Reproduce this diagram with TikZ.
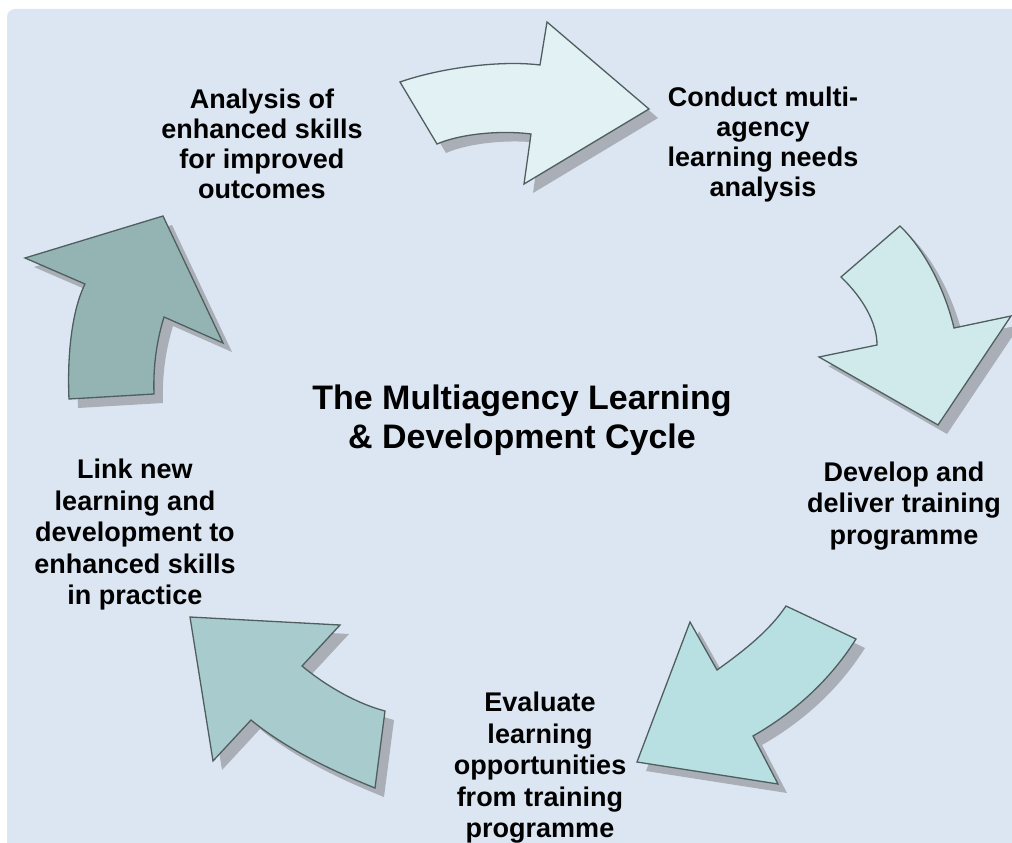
\documentclass[tikz,border=0pt]{standalone}
\usepackage{fontspec}
\setmainfont{Liberation Sans}
\usetikzlibrary{shadows}

\definecolor{bgblue}{HTML}{DCE6F2}
\definecolor{edgegray}{HTML}{4F5F5F}
\definecolor{shadowgray}{HTML}{A9AEB7}
\definecolor{arrowA}{HTML}{E2F2F4}
\definecolor{arrowB}{HTML}{D0EAEB}
\definecolor{arrowC}{HTML}{B8E0E2}
\definecolor{arrowD}{HTML}{A8CBCD}
\definecolor{arrowE}{HTML}{94B4B4}

\begin{document}
\begin{tikzpicture}[x=1pt,y=-1pt,
  cyclearrow/.style={draw=edgegray, line width=1.3pt, line join=miter,
    drop shadow={shadow xshift=9pt, shadow yshift=-9pt, fill=shadowgray, opacity=1}},
  steplabel/.style={align=center, inner sep=0pt, text=black,
    font=\fontsize{27}{30}\selectfont\bfseries},
  widelabel/.style={steplabel, font=\fontsize{27}{31.5}\selectfont\bfseries},
  cycletitle/.style={align=center, inner sep=0pt, text=black,
    font=\fontsize{34}{39}\selectfont\bfseries},
]
% page and panel
\fill[white] (0,0) rectangle (1012,843);
\useasboundingbox (0,0) rectangle (1012,843);
\fill[bgblue] (7,843) [rounded corners=8pt] -- (7,9) -- (1030,9) [sharp corners] -- (1030,843) -- cycle;

% top arrow, pointing right
\path[cyclearrow, fill=arrowA]
  (400,82) .. controls (440,68) and (500,60) .. (540,65)
  -- (547,22) -- (649,109) -- (524,184) -- (531,134)
  .. controls (500,130) and (460,134) .. (437,144) -- cycle;

% right arrow, pointing down
\path[cyclearrow, fill=arrowB]
  (900,226) -- (841,277) .. controls (862,297) and (877,322) .. (877,345)
  -- (819,357) -- (938,425) -- (1011,316) -- (954,328)
  .. controls (945,290) and (925,250) .. (900,226) -- cycle;

% lower right arrow, pointing down-left
\path[cyclearrow, fill=arrowC]
  (786,606) -- (856,639) .. controls (830,680) and (795,712) .. (753,736)
  -- (778,784) -- (637,762) -- (690,622) -- (717,670)
  .. controls (745,650) and (770,630) .. (786,606) -- cycle;

% lower left arrow, pointing up-left
\path[cyclearrow, fill=arrowD]
  (190,617) -- (340,625) -- (302,666)
  .. controls (325,685) and (355,703) .. (385,711)
  -- (375,788) .. controls (330,770) and (285,748) .. (251,720)
  -- (213,761) -- cycle;

% left arrow, pointing up
\path[cyclearrow, fill=arrowE]
  (25,258) -- (163,216) -- (223,343) -- (164,317)
  .. controls (157,340) and (153,365) .. (154,394)
  -- (69,399) .. controls (67,355) and (72,310) .. (85,284) -- cycle;

% texts
\node[cycletitle] (cycle) at (522,420) {The Multiagency Learning\\\& Development Cycle};
\node[steplabel] (analysis) at (262,144) {Analysis of\\enhanced skills\\for improved\\outcomes};
\node[steplabel] (conduct) at (763,145) {Conduct multi-\\agency\\learning needs\\analysis};
\node[widelabel] (develop) at (904,506) {Develop and\\deliver training\\programme};
\node[widelabel] (evaluate) at (540,768) {Evaluate\\learning\\opportunities\\from training\\programme};
\node[widelabel] (link) at (135,535) {Link new\\learning and\\development to\\enhanced skills\\in practice};
\end{tikzpicture}
\end{document}
